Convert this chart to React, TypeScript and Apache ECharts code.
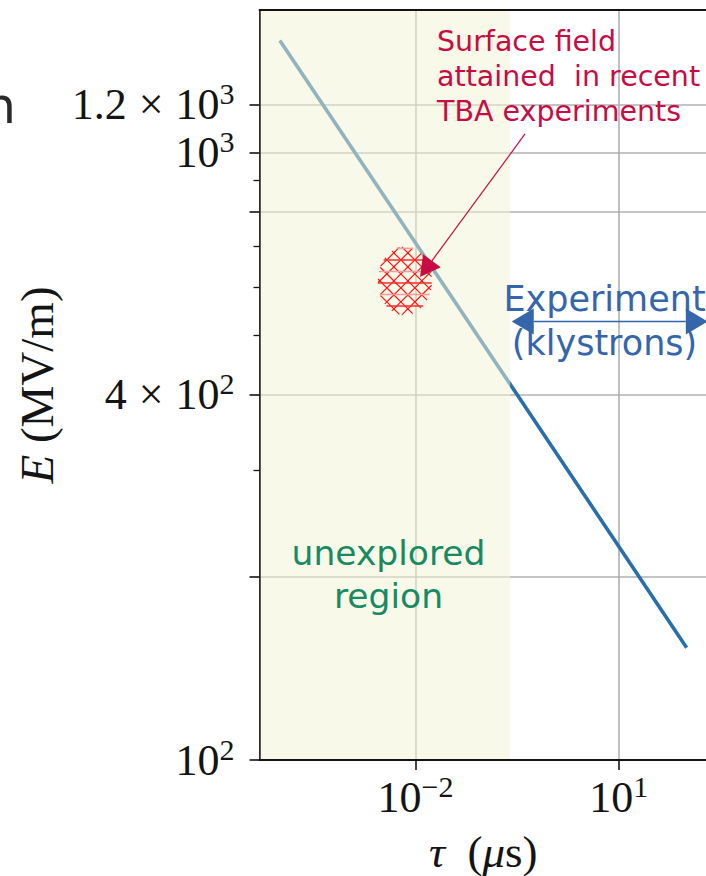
import { useEffect, useRef } from "react";
import * as echarts from "echarts";

// Breakdown limit: E (MV/m) against pulse length tau (us), straight on log-log axes
const TAU_US = [1e-4, 1e2];
const FIELD_MV_PER_M = [1530, 153];

// Plotted window
const TAU_RANGE = [10 ** -4.3, 10 ** 2.3];
const FIELD_RANGE = [100, 10 ** 3.2347];

// Pulse lengths below this are still unexplored
const UNEXPLORED_TAU_MAX = 0.25;

// Surface field reached in TBA experiments (hatched patch)
const TBA_TAU_SPAN = [0.0028, 0.0174];
const TBA_FIELD_SPAN = [540, 700];
const TBA_ARROW_FROM = [0.413, 1073];
const TBA_ARROW_TO = [0.0117, 624];

// Klystron-driven experiments span
const KLYSTRON_TAU_SPAN = [0.263, 205];
const KLYSTRON_FIELD = 527;

// Ticks
const X_TICKS = [0.01, 10];
const X_TICK_LABELS = ["{b|10}{s|\u22122}", "{b|10}{s|1}"];
const Y_MAJOR_TICKS = [100, 200, 400, 800, 1000, 1200];
const Y_MINOR_TICKS = [300, 500, 600, 700, 900];
const Y_LABELED = [100, 400, 1000, 1200];
const Y_TICK_LABELS = [
  "{b|10}{s|2}",
  "{b|4}{x|\u00d7}{b|10}{s|2}",
  "{b|10}{s|3}",
  "{b|1.2}{x|\u00d7}{b|10}{s|3}",
];

const INK = "#141414";
const GRID = "#b0b0b0";
const LINE_BLUE = "#286eaa";
const CRIMSON = "#c70c44";
const TEXT_BLUE = "#3565ab";
const GREEN = "#178a62";
const SERIF = "'Liberation Serif', 'DejaVu Serif', serif";
const SANS = "'DejaVu Sans', sans-serif";

const lg = Math.log10;

const tickRich = {
  b: { fontFamily: SERIF, fontSize: 44, lineHeight: 52, color: INK },
  s: { fontFamily: SERIF, fontSize: 30, lineHeight: 26, verticalAlign: "top", color: INK },
  x: { fontFamily: SERIF, fontSize: 44, lineHeight: 52, padding: [0, 12, 0, 12], color: INK },
};

function labelFor(values: number[], labels: string[], v: number) {
  for (let i = 0; i < values.length; i++) {
    if (Math.abs(lg(values[i]) - v) < 1e-6) return labels[i];
  }
  return "";
}

// Chord of an ellipse along a line through (px, py) with direction (dx, dy)
function chord(cx: number, cy: number, rx: number, ry: number, px: number, py: number, dx: number, dy: number) {
  const A = (dx * dx) / (rx * rx) + (dy * dy) / (ry * ry);
  const B = 2 * (((px - cx) * dx) / (rx * rx) + ((py - cy) * dy) / (ry * ry));
  const C = ((px - cx) * (px - cx)) / (rx * rx) + ((py - cy) * (py - cy)) / (ry * ry) - 1;
  const disc = B * B - 4 * A * C;
  if (disc <= 0) return null;
  const t1 = (-B - Math.sqrt(disc)) / (2 * A);
  const t2 = (-B + Math.sqrt(disc)) / (2 * A);
  return { x1: px + t1 * dx, y1: py + t1 * dy, x2: px + t2 * dx, y2: py + t2 * dy };
}

function arrowHead(tip: number[], from: number[], len: number, width: number) {
  const dx = tip[0] - from[0];
  const dy = tip[1] - from[1];
  const d = Math.hypot(dx, dy) || 1;
  const ux = dx / d;
  const uy = dy / d;
  const bx = tip[0] - ux * len;
  const by = tip[1] - uy * len;
  const nx = -uy * (width / 2);
  const ny = ux * (width / 2);
  return {
    base: [bx, by],
    points: [
      [tip[0], tip[1]],
      [bx + nx, by + ny],
      [bx - nx, by - ny],
    ],
  };
}

export default function App() {
  const ref = useRef<HTMLDivElement>(null);

  useEffect(() => {
    document.body.style.margin = "0";
    const chart = echarts.init(ref.current!, undefined, { renderer: "svg" });

    const option: any = {
      animation: false,
      grid: { left: 259.5, top: 10, right: -1, bottom: 116, outerBoundsMode: "none" },
      xAxis: [
        {
          type: "value",
          position: "bottom",
          min: lg(TAU_RANGE[0]),
          max: lg(TAU_RANGE[1]),
          nameMoveOverlap: false,
          axisLine: { show: true, onZero: false, lineStyle: { color: INK, width: 1.8 } },
          axisTick: {
            show: true,
            customValues: X_TICKS.map(lg),
            length: 10,
            lineStyle: { color: INK, width: 1.6 },
          },
          axisLabel: {
            customValues: X_TICKS.map(lg),
            margin: 11,
            formatter: (v: number) => labelFor(X_TICKS, X_TICK_LABELS, v),
            rich: tickRich,
          },
          splitLine: { show: true, lineStyle: { color: GRID, width: 1.6 } },
          name: "{i|\u03c4}  ({i|\u03bc}s)",
          nameLocation: "middle",
          nameGap: 67,
          nameTextStyle: {
            fontFamily: SERIF,
            fontSize: 45,
            lineHeight: 50,
            color: INK,
            rich: {
              i: { fontFamily: SERIF, fontSize: 45, lineHeight: 50, fontStyle: "italic", color: INK },
            },
          },
        },
        {
          type: "log",
          position: "top",
          min: TAU_RANGE[0],
          max: TAU_RANGE[1],
          axisLine: { show: true, onZero: false, lineStyle: { color: INK, width: 1.8 } },
          axisTick: { show: false },
          axisLabel: { show: false },
          splitLine: { show: false },
        },
      ],
      yAxis: [
        {
          type: "value",
          position: "left",
          min: lg(FIELD_RANGE[0]),
          max: lg(FIELD_RANGE[1]),
          nameMoveOverlap: false,
          axisLine: { show: true, onZero: false, lineStyle: { color: INK, width: 1.8 } },
          axisTick: {
            show: true,
            customValues: Y_MAJOR_TICKS.map(lg),
            length: 10,
            lineStyle: { color: INK, width: 1.6 },
          },
          axisLabel: {
            customValues: Y_LABELED.map(lg),
            margin: 25,
            formatter: (v: number) => labelFor(Y_LABELED, Y_TICK_LABELS, v),
            rich: tickRich,
          },
          splitLine: { show: true, lineStyle: { color: GRID, width: 1.6 } },
          name: "{i|E} (MV/m)",
          nameLocation: "middle",
          nameGap: 198,
          nameTextStyle: {
            fontFamily: SERIF,
            fontSize: 47,
            lineHeight: 50,
            color: INK,
            rich: {
              i: { fontFamily: SERIF, fontSize: 47, lineHeight: 50, fontStyle: "italic", color: INK },
            },
          },
        },
        {
          type: "log",
          position: "right",
          min: FIELD_RANGE[0],
          max: FIELD_RANGE[1],
          axisLine: { show: false },
          axisTick: { show: false },
          axisLabel: { show: false },
          splitLine: { show: false },
        },
        {
          type: "value",
          position: "left",
          min: lg(FIELD_RANGE[0]),
          max: lg(FIELD_RANGE[1]),
          axisLine: { show: false, onZero: false },
          axisTick: {
            show: true,
            customValues: Y_MINOR_TICKS.map(lg),
            length: 6,
            lineStyle: { color: INK, width: 1.3 },
          },
          axisLabel: { show: false },
          splitLine: { show: false },
        },
      ],
      series: [
        {
          type: "line",
          xAxisIndex: 1,
          yAxisIndex: 1,
          z: 2,
          showSymbol: false,
          symbol: "none",
          data: TAU_US.map((t, i) => [t, FIELD_MV_PER_M[i]]),
          lineStyle: { color: LINE_BLUE, width: 3.6 },
        },
        {
          // unexplored band, translucent so the curve and grid show through
          type: "custom",
          xAxisIndex: 1,
          yAxisIndex: 1,
          z: 3,
          silent: true,
          encode: { x: [0, 1], y: [2, 3] },
          data: [[TAU_RANGE[0], UNEXPLORED_TAU_MAX, FIELD_RANGE[0], FIELD_RANGE[1]]],
          renderItem: (_p: any, api: any) => {
            const a = api.coord([api.value(0), api.value(3)]);
            const b = api.coord([api.value(1), api.value(2)]);
            return {
              type: "rect",
              shape: { x: a[0] + 1, y: a[1] + 1, width: b[0] - a[0] - 1, height: b[1] - a[1] - 2 },
              style: { fill: "rgba(241,243,211,0.52)" },
            };
          },
        },
        {
          // cross-hatched patch of TBA results
          type: "custom",
          xAxisIndex: 1,
          yAxisIndex: 1,
          z: 4,
          silent: true,
          encode: { x: [0, 1], y: [2, 3] },
          data: [[TBA_TAU_SPAN[0], TBA_TAU_SPAN[1], TBA_FIELD_SPAN[0], TBA_FIELD_SPAN[1]]],
          renderItem: (_p: any, api: any) => {
            const a = api.coord([api.value(0), api.value(2)]);
            const b = api.coord([api.value(1), api.value(3)]);
            const cx = (a[0] + b[0]) / 2;
            const cy = (a[1] + b[1]) / 2;
            const rx = Math.abs(b[0] - a[0]) / 2;
            const ry = Math.abs(b[1] - a[1]) / 2;
            const children: any[] = [];
            const step = 14;
            for (let k = -8; k <= 8; k++) {
              for (const dir of [1, -1]) {
                const c = chord(cx, cy, rx, ry, cx + k * step + 3, cy, 1, dir);
                if (c)
                  children.push({
                    type: "line",
                    shape: c,
                    style: { stroke: "#ff1010", lineWidth: 1.2 },
                  });
              }
            }
            for (let j = -3; j <= 3; j++) {
              const c = chord(cx, cy, rx, ry, cx, cy + j * 11.5 + 2, 1, 0);
              if (c)
                children.push({
                  type: "line",
                  shape: c,
                  style: { stroke: j % 2 === 0 ? "#ff2a2a" : "#f39a9a", lineWidth: 1.5 },
                });
            }
            return { type: "group", children };
          },
        },
        {
          // pointer from the TBA note to the patch
          type: "custom",
          xAxisIndex: 1,
          yAxisIndex: 1,
          z: 5,
          silent: true,
          encode: { x: [0, 2], y: [1, 3] },
          data: [[TBA_ARROW_FROM[0], TBA_ARROW_FROM[1], TBA_ARROW_TO[0], TBA_ARROW_TO[1]]],
          renderItem: (_p: any, api: any) => {
            const a = api.coord([api.value(0), api.value(1)]);
            const b = api.coord([api.value(2), api.value(3)]);
            const h = arrowHead(b, a, 20, 22);
            return {
              type: "group",
              children: [
                {
                  type: "line",
                  shape: { x1: a[0], y1: a[1], x2: h.base[0], y2: h.base[1] },
                  style: { stroke: CRIMSON, lineWidth: 1.2 },
                },
                { type: "polygon", shape: { points: h.points }, style: { fill: CRIMSON } },
              ],
            };
          },
        },
        {
          // double arrow marking the klystron range
          type: "custom",
          xAxisIndex: 1,
          yAxisIndex: 1,
          z: 5,
          silent: true,
          encode: { x: [0, 2], y: [1, 3] },
          data: [[KLYSTRON_TAU_SPAN[0], KLYSTRON_FIELD, KLYSTRON_TAU_SPAN[1], KLYSTRON_FIELD]],
          renderItem: (_p: any, api: any) => {
            const a = api.coord([api.value(0), api.value(1)]);
            const b = api.coord([api.value(2), api.value(3)]);
            const hb = arrowHead(b, a, 22, 26);
            const ha = arrowHead(a, b, 22, 26);
            return {
              type: "group",
              children: [
                {
                  type: "line",
                  shape: { x1: ha.base[0], y1: ha.base[1], x2: hb.base[0], y2: hb.base[1] },
                  style: { stroke: TEXT_BLUE, lineWidth: 1.5 },
                },
                { type: "polygon", shape: { points: ha.points }, style: { fill: TEXT_BLUE } },
                { type: "polygon", shape: { points: hb.points }, style: { fill: TEXT_BLUE } },
              ],
            };
          },
        },
      ],
      graphic: [
        {
          type: "text",
          z: 100,
          x: 437,
          y: 76,
          style: {
            text: "Surface field\nattained  in recent\nTBA experiments",
            fill: CRIMSON,
            fontFamily: SANS,
            fontSize: 28.5,
            lineHeight: 35,
            align: "left",
            verticalAlign: "middle",
          },
        },
        {
          type: "text",
          z: 100,
          x: 604.5,
          y: 321,
          style: {
            text: "Experiment\n(klystrons)",
            fill: TEXT_BLUE,
            fontFamily: SANS,
            fontSize: 35,
            lineHeight: 44,
            align: "center",
            verticalAlign: "middle",
          },
        },
        {
          type: "text",
          z: 100,
          x: 388.5,
          y: 574.5,
          style: {
            text: "unexplored\nregion",
            fill: GREEN,
            fontFamily: SANS,
            fontSize: 34.5,
            lineHeight: 43,
            align: "center",
            verticalAlign: "middle",
          },
        },
        {
          type: "text",
          z: 100,
          x: 16,
          y: 106,
          style: {
            text: "n",
            fill: "#2a2a2a",
            fontFamily: SANS,
            fontSize: 50,
            align: "right",
            verticalAlign: "middle",
          },
        },
      ],
    };

    chart.setOption(option);
    return () => chart.dispose();
  }, []);

  return <div ref={ref} style={{ width: 706, height: 876 }} />;
}
